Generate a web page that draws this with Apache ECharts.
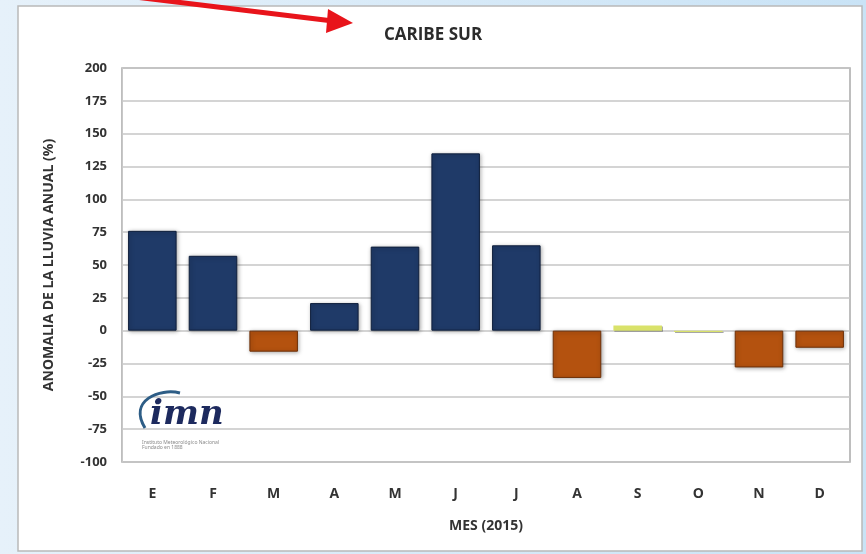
<!DOCTYPE html>
<html>
<head>
<meta charset="utf-8">
<script src="https://cdn.jsdelivr.net/npm/echarts@6/dist/echarts.min.js"></script>
<style>
  html, body { margin: 0; padding: 0; }
  #chart { width: 866px; height: 554px; }
</style>
</head>
<body>
<div id="chart"></div>
<script>
// meses y anomalía (%)
const months = ['E', 'F', 'M', 'A', 'M', 'J', 'J', 'A', 'S', 'O', 'N', 'D'];
const anomaly = [76, 57, -16, 21, 64, 135, 65, -36, 4, -1, -28, -13];
const yTicks = [-100, -75, -50, -25, 0, 25, 50, 75, 100, 125, 150, 175, 200];

const chart = echarts.init(document.getElementById('chart'));

function barColor(v) {
  if (v > 5) return '#1f3a68';
  if (v < -5) return '#b4520f';
  return '#d9e26a';
}
function edgeColor(v) {
  if (v > 5) return '#0f1f3c';
  if (v < -5) return '#6e3008';
  return '#c6cf55';
}

const option = {
  backgroundColor: new echarts.graphic.LinearGradient(0, 0, 1, 0, [
    { offset: 0, color: '#e6f1fa' },
    { offset: 1, color: '#c9e3f6' }
  ]),
  graphic: [
    {
      type: 'rect', z: -10,
      shape: { x: 18, y: 6, width: 844, height: 545 },
      style: { fill: '#ffffff', stroke: '#b9b9b9', lineWidth: 1.5 }
    },
    {
      type: 'line', z: 10,
      shape: { x1: 135, y1: -3, x2: 333, y2: 21 },
      style: { stroke: '#e8141b', lineWidth: 5 }
    },
    {
      type: 'polygon', z: 10,
      shape: { points: [[353, 23], [328, 9], [326, 33]] },
      style: { fill: '#e8141b' }
    },
    {
      // trazo del logo
      type: 'bezierCurve', z: 5,
      shape: { x1: 145, y1: 428, cpx1: 128, cpy1: 400, cpx2: 160, cpy2: 388, x2: 180, y2: 393 },
      style: { stroke: '#2d5d86', lineWidth: 3, fill: null }
    },
    {
      type: 'text', z: 5, left: 150, top: 398,
      style: {
        text: 'imn', fill: '#1d2a5e',
        font: 'italic bold 34px "DejaVu Serif", serif'
      }
    },
    {
      type: 'text', z: 5, left: 142, top: 440,
      style: {
        text: 'Instituto Meteorológico Nacional\nFundado en 1888', fill: '#8a8a8a',
        font: '5px "Noto Sans", sans-serif'
      }
    }
  ],
  title: {
    text: 'CARIBE SUR',
    left: 'center',
    top: 22,
    textStyle: {
      fontFamily: 'Open Sans',
      fontSize: 17,
      fontWeight: 'bold',
      color: '#2b2b2b'
    }
  },
  grid: {
    left: 122,
    right: 16,
    top: 68,
    bottom: 92,
    show: true,
    borderColor: '#a9a9a9',
    borderWidth: 1.5,
    backgroundColor: 'transparent'
  },
  xAxis: {
    type: 'category',
    data: months,
    name: 'MES (2015)',
    nameLocation: 'middle',
    nameGap: 57,
    nameTextStyle: { fontFamily: 'Open Sans', fontSize: 14, fontWeight: 'bold', color: '#333' },
    axisLine: { show: false },
    axisTick: { show: false },
    axisLabel: {
      margin: 25,
      fontFamily: 'Open Sans',
      fontSize: 14,
      fontWeight: 'bold',
      color: '#333'
    }
  },
  yAxis: {
    type: 'value',
    min: yTicks[0],
    max: yTicks[yTicks.length - 1],
    interval: 25,
    name: 'ANOMALIA DE LA LLUVIA ANUAL (%)',
    nameLocation: 'middle',
    nameGap: 66,
    nameTextStyle: { fontFamily: 'Open Sans', fontSize: 14, fontWeight: 'bold', color: '#333' },
    axisLine: { show: true, lineStyle: { color: '#c8c8c8' } },
    axisTick: { show: false },
    axisLabel: {
      margin: 15,
      fontFamily: 'Open Sans',
      fontSize: 13,
      fontWeight: 'bold',
      color: '#333'
    },
    splitLine: { lineStyle: { color: '#c6c6c6', width: 1.5 } }
  },
  series: [
    {
      type: 'bar',
      barWidth: '80%',
      data: anomaly.map(v => ({
        value: v,
        itemStyle: {
          color: barColor(v),
          borderColor: edgeColor(v),
          borderWidth: Math.abs(v) > 5 ? 1 : 0,
          shadowColor: 'rgba(0,0,0,0.35)',
          shadowBlur: Math.abs(v) > 5 ? 4 : 0,
          shadowOffsetX: 1,
          shadowOffsetY: 1
        }
      }))
    }
  ]
};

chart.setOption(option);
</script>
</body>
</html>
